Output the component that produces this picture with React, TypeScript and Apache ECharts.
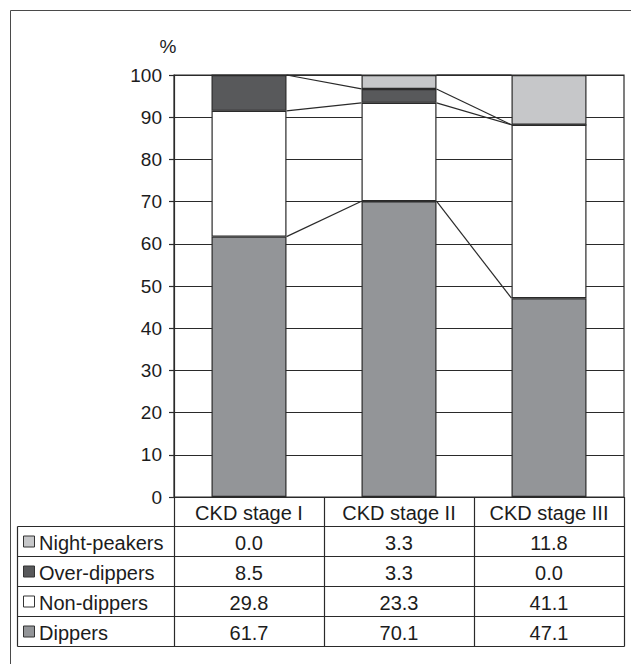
import React, { useEffect, useRef } from "react";
import * as echarts from "echarts";

const categories = ["CKD stage I", "CKD stage II", "CKD stage III"];
const seriesNames = ["Dippers", "Non-dippers", "Over-dippers", "Night-peakers"];
const dippers = [61.7, 70.1, 47.1];
const nonDippers = [29.8, 23.3, 41.1];
const overDippers = [8.5, 3.3, 0.0];
const nightPeakers = [0.0, 3.3, 11.8];
const seriesColors = ["#939598", "#ffffff", "#58595b", "#c6c7c9"];
const yTicks = [0, 100, 10];

const FONT = "'Liberation Sans', Arial, sans-serif";
const LINE = "#2a2a2a";
const TEXT = "#1c1c1c";

export default function App() {
  const ref = useRef<HTMLDivElement>(null);
  useEffect(() => {
    document.body.style.margin = "0";
    const chart = echarts.init(ref.current!, null, { renderer: "svg" });
    const values = [dippers, nonDippers, overDippers, nightPeakers];

    const cum: number[][] = categories.map((_, ci) => {
      let s = 0;
      return values.map((arr) => (s += arr[ci]));
    });
    const connectors: number[][] = [];
    for (let ci = 0; ci < categories.length - 1; ci++) {
      for (let k = 0; k < values.length; k++) {
        connectors.push([ci, cum[ci][k], cum[ci + 1][k]]);
      }
    }

    const gridLeft = 174;
    const gridRight = 624;
    const gridTop = 75;
    const gridBottomY = 497;
    const colW = (gridRight - gridLeft) / categories.length;
    const rowH = 30;
    const headerBottom = 526.5;
    const tableLeft = 17.5;
    const tfont = `20px ${FONT}`;

    const graphics: any[] = [];
    graphics.push({
      type: "rect",
      shape: { x: 10.5, y: 10.5, width: 800, height: 800 },
      style: { fill: "none", stroke: "#4a4a4a", lineWidth: 1 },
      silent: true,
    });
    graphics.push({
      type: "text",
      x: 168,
      y: 46,
      style: { text: "%", font: `19px ${FONT}`, fill: TEXT, align: "center", verticalAlign: "middle" },
    });
    categories.forEach((c, i) => {
      graphics.push({
        type: "text",
        x: gridLeft + colW * (i + 0.5),
        y: (gridBottomY + headerBottom) / 2 + 1,
        style: { text: c, font: tfont, fill: TEXT, align: "center", verticalAlign: "middle" },
      });
    });
    for (let i = 0; i <= categories.length; i++) {
      const x = Math.round(gridLeft + colW * i) + 0.5;
      graphics.push({
        type: "line",
        shape: { x1: x, y1: gridBottomY, x2: x, y2: headerBottom + rowH * 4 },
        style: { stroke: LINE, lineWidth: 1.2 },
      });
    }
    graphics.push({
      type: "line",
      shape: { x1: tableLeft, y1: headerBottom, x2: tableLeft, y2: headerBottom + rowH * 4 },
      style: { stroke: LINE, lineWidth: 1.2 },
    });
    for (let r = 0; r <= 4; r++) {
      const y = headerBottom + rowH * r;
      graphics.push({
        type: "line",
        shape: { x1: tableLeft, y1: y, x2: gridRight + 0.5, y2: y },
        style: { stroke: LINE, lineWidth: 1.2 },
      });
    }
    const order = [3, 2, 1, 0];
    order.forEach((si, r) => {
      const cy = headerBottom + rowH * (r + 0.5);
      graphics.push({
        type: "rect",
        shape: { x: 23.5, y: cy - 5.5, width: 11, height: 11 },
        style: { fill: seriesColors[si], stroke: "#333", lineWidth: 1 },
      });
      graphics.push({
        type: "text",
        x: 39,
        y: cy + 1,
        style: { text: seriesNames[si], font: tfont, fill: TEXT, align: "left", verticalAlign: "middle" },
      });
      values[si].forEach((v, ci) => {
        graphics.push({
          type: "text",
          x: gridLeft + colW * (ci + 0.5),
          y: cy + 1,
          style: { text: v.toFixed(1), font: tfont, fill: TEXT, align: "center", verticalAlign: "middle" },
        });
      });
    });

    const barSeries = values.map((arr, si) => ({
      type: "bar",
      name: seriesNames[si],
      stack: "total",
      barWidth: "50%",
      data: arr,
      itemStyle: { color: seriesColors[si], borderColor: LINE, borderWidth: 1.2 },
      z: 3,
    }));

    chart.setOption({
      animation: false,
      backgroundColor: "#ffffff",
      grid: {
        left: gridLeft,
        top: gridTop,
        width: gridRight - gridLeft,
        height: gridBottomY - gridTop,
        show: true,
        borderColor: LINE,
        borderWidth: 1.2,
        backgroundColor: "transparent",
      },
      xAxis: {
        type: "category",
        data: categories,
        axisLabel: { show: false },
        axisTick: { show: false },
        axisLine: { show: true, lineStyle: { color: LINE, width: 1.2 } },
        splitLine: { show: false },
      },
      yAxis: {
        type: "value",
        min: yTicks[0],
        max: yTicks[1],
        interval: yTicks[2],
        axisLine: { show: true, lineStyle: { color: LINE, width: 1.2 } },
        axisTick: { show: true, length: 5, inside: false, lineStyle: { color: LINE, width: 1.2 } },
        axisLabel: { fontSize: 19, color: TEXT, fontFamily: FONT, margin: 12 },
        splitLine: { show: true, lineStyle: { color: LINE, width: 1.2 } },
      },
      series: [
        ...barSeries,
        {
          type: "custom",
          name: "series-lines",
          data: connectors,
          encode: { x: 0, y: [1, 2] },
          z: 4,
          silent: true,
          renderItem: (params: any, api: any) => {
            const ci = api.value(0);
            const a = api.coord([ci, api.value(1)]);
            const b = api.coord([ci + 1, api.value(2)]);
            const half = api.size([1, 0])[0] * 0.25;
            return {
              type: "line",
              shape: { x1: a[0] + half, y1: a[1], x2: b[0] - half, y2: b[1] },
              style: { stroke: LINE, lineWidth: 1.2 },
            };
          },
        },
      ],
      graphic: graphics,
    });
    return () => chart.dispose();
  }, []);
  return <div ref={ref} style={{ position: "absolute", left: 0, top: 0, width: 631, height: 664 }} />;
}
